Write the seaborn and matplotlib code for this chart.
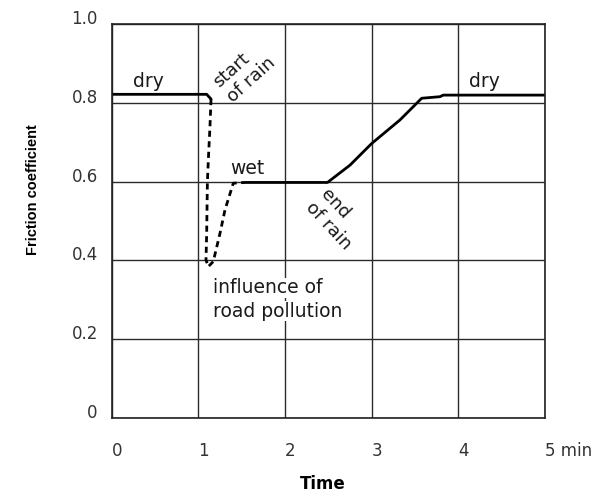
import matplotlib
matplotlib.use('Agg')
import matplotlib.pyplot as plt
import matplotlib.transforms as mtransforms
import pandas as pd
import seaborn as sns

# friction curve (time in min, friction coefficient)
dry_t = [0.0, 1.096, 1.146]
dry_mu = [0.822, 0.822, 0.810]

rain_t = [1.146, 1.134, 1.115, 1.104, 1.096, 1.088, 1.115, 1.172, 1.25, 1.307, 1.403, 1.538]
rain_mu = [0.810, 0.740, 0.655, 0.597, 0.469, 0.401, 0.384, 0.397, 0.469, 0.528, 0.596, 0.598]

wet_t = [1.538, 2.49, 2.75, 3.0, 3.327, 3.577, 3.788, 3.826, 5.0]
wet_mu = [0.598, 0.598, 0.642, 0.697, 0.757, 0.812, 0.816, 0.82, 0.82]

x_ticks = [0, 1, 2, 3, 4, 5]
x_labels = ['0', '1', '2', '3', '4', '5 min']
y_ticks = [0, 0.2, 0.4, 0.6, 0.8, 1.0]
y_labels = ['0', '0.2', '0.4', '0.6', '0.8', '1.0']

sns.set_theme(style='white')
plt.rcParams['font.family'] = ['DejaVu Sans']

fig = plt.figure(figsize=(6.01, 4.95), dpi=100)
ax = fig.add_axes([111.7 / 601, 1 - 417.7 / 495, (545 - 111.7) / 601, (417.7 - 24.3) / 495])

solid = pd.DataFrame({'t': dry_t, 'mu': dry_mu})
dashed = pd.DataFrame({'t': rain_t, 'mu': rain_mu})
wet = pd.DataFrame({'t': wet_t, 'mu': wet_mu})

sns.lineplot(data=solid, x='t', y='mu', sort=False, estimator=None, color='black', lw=2.0, ax=ax)
sns.lineplot(data=dashed, x='t', y='mu', sort=False, estimator=None, color='black', lw=2.0,
             ax=ax).lines[-1].set_dashes([2.2, 1.6])
sns.lineplot(data=wet, x='t', y='mu', sort=False, estimator=None, color='black', lw=2.0, ax=ax)

ax.set_xlim(0, 5)
ax.set_ylim(0, 1.0)
ax.set_xticks(x_ticks)
ax.set_xticklabels(x_labels, ha='left', color='#333333', fontsize=12)
ax.set_yticks(y_ticks)
ax.set_yticklabels(y_labels, color='#333333', fontsize=12)
ax.tick_params(axis='x', length=0, pad=17.5)
ax.tick_params(axis='y', length=0, pad=10)
shift = mtransforms.ScaledTranslation(0, 7 / 100, fig.dpi_scale_trans)
for lab in ax.get_yticklabels():
    lab.set_transform(lab.get_transform() + shift)

ax.grid(True, color='#2b2b2b', lw=1.0)
ax.set_axisbelow(True)
for sp in ax.spines.values():
    sp.set_color('#222222')
    sp.set_linewidth(1.2)
ax.set_xlabel('')
ax.set_ylabel('')

txt = dict(color='#1a1a1a', fontsize=13.5)
ax.text(0.42, 0.84, 'dry', ha='center', va='baseline', **txt)
ax.text(4.30, 0.841, 'dry', ha='center', va='baseline', **txt)
ax.text(1.56, 0.619, 'wet', ha='center', va='baseline', **txt)
ax.text(1.17, 0.316, 'influence of', ha='left', va='baseline',
        bbox=dict(fc='white', ec='none', pad=0.5), **txt)
ax.text(1.17, 0.257, 'road pollution', ha='left', va='baseline',
        bbox=dict(fc='white', ec='none', pad=0.5), **txt)
ax.text(1.527, 0.877, 'start\nof rain', ha='center', va='center', rotation=42,
        multialignment='left', linespacing=1.15, color='#1a1a1a', fontsize=13)
ax.text(2.588, 0.504, 'end\nof rain', ha='center', va='center', rotation=-47,
        multialignment='left', linespacing=1.15, color='#1a1a1a', fontsize=13)

fig.text(323 / 601, 1 - 489 / 495, 'Time', ha='center', va='baseline',
         fontsize=12, fontweight='bold', color='black')
fig.text(33 / 601, 1 - 190 / 495, 'Friction coefficient', ha='center', va='center',
         rotation=90, fontsize=10.5, fontweight='bold', color='black',
         family=['Liberation Sans', 'DejaVu Sans'])

fig.savefig('out.png', dpi=100, facecolor='white')
